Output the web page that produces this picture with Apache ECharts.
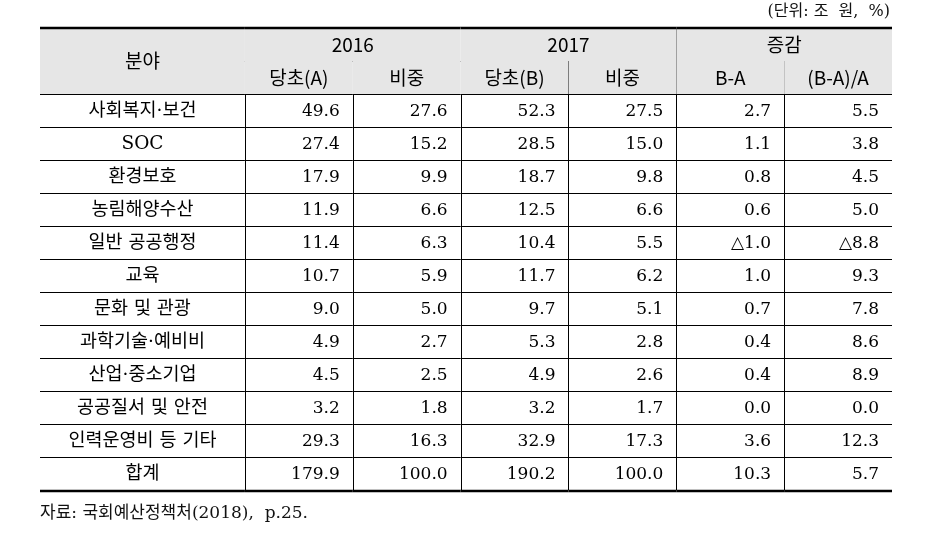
<!DOCTYPE html>
<html>
<head>
<meta charset="utf-8">
<script src="https://cdn.jsdelivr.net/npm/echarts@6/dist/echarts.min.js"></script>
<style>
html,body{margin:0;padding:0;background:#fff;}
#chart{width:930px;height:544px;}
</style>
</head>
<body>
<div id="chart"></div>
<script>
// ---- data ----
const firstHeader = '분야';
const yearHeaders = ['2016', '2017', '증감'];
const subHeaders = ['당초(A)', '비중', '당초(B)', '비중', 'B-A', '(B-A)/A'];
const categories = ['사회복지·보건', 'SOC', '환경보호', '농림해양수산', '일반 공공행정', '교육', '문화 및 관광', '과학기술·예비비', '산업·중소기업', '공공질서 및 안전', '인력운영비 등 기타', '합계'];
const budget2016 = [49.6, 27.4, 17.9, 11.9, 11.4, 10.7, 9.0, 4.9, 4.5, 3.2, 29.3, 179.9];
const share2016 = [27.6, 15.2, 9.9, 6.6, 6.3, 5.9, 5.0, 2.7, 2.5, 1.8, 16.3, 100.0];
const budget2017 = [52.3, 28.5, 18.7, 12.5, 10.4, 11.7, 9.7, 5.3, 4.9, 3.2, 32.9, 190.2];
const share2017 = [27.5, 15.0, 9.8, 6.6, 5.5, 6.2, 5.1, 2.8, 2.6, 1.7, 17.3, 100.0];
const diffBA = [2.7, 1.1, 0.8, 0.6, -1.0, 1.0, 0.7, 0.4, 0.4, 0.0, 3.6, 10.3];
const rateBA = [5.5, 3.8, 4.5, 5.0, -8.8, 9.3, 7.8, 8.6, 8.9, 0.0, 12.3, 5.7];
const unitText = '(단위: 조  원,  %)';
const sourceText = '자료: 국회예산정책처(2018),  p.25.';

// ---- layout (data-space column edges) ----
const firstColWidth = 1.9;
const colEdges = [0];
colEdges.push(firstColWidth);
for (let i = 1; i <= 6; i++) colEdges.push(firstColWidth + i);
const xMax = colEdges[colEdges.length - 1];
const headerRows = 2;
const totalRows = headerRows + categories.length;

const fmt = v => (v < 0 ? '△' + Math.abs(v).toFixed(1) : v.toFixed(1));
const numCols = [budget2016, share2016, budget2017, share2017, diffBA, rateBA];

const cells = [];
cells.push({x0: 0, x1: colEdges[1], y0: 0, y1: 2, text: firstHeader, kind: 'head'});
yearHeaders.forEach((t, i) => {
  cells.push({x0: colEdges[1 + 2 * i], x1: colEdges[3 + 2 * i], y0: 0, y1: 1, text: t, kind: 'head'});
});
subHeaders.forEach((t, i) => {
  cells.push({x0: colEdges[1 + i], x1: colEdges[2 + i], y0: 1, y1: 2, text: t, kind: 'head'});
});
categories.forEach((c, r) => {
  cells.push({x0: 0, x1: colEdges[1], y0: headerRows + r, y1: headerRows + r + 1, text: c, kind: 'cat'});
  numCols.forEach((arr, j) => {
    cells.push({x0: colEdges[1 + j], x1: colEdges[2 + j], y0: headerRows + r, y1: headerRows + r + 1, text: fmt(arr[r]), kind: 'num'});
  });
});

const serifFont = '"DejaVu Serif", "Noto Sans CJK KR", serif';
const sansFont = '"Noto Sans CJK KR", "Noto Sans", sans-serif';
const px = v => Math.round(v) + 0.5;

function renderItem(params, api) {
  const c = cells[params.dataIndex];
  const p0 = api.coord([api.value(0), api.value(2)]);
  const p1 = api.coord([api.value(1), api.value(3)]);
  const x0 = p0[0], y0 = p0[1], x1 = p1[0], y1 = p1[1];
  const children = [];
  if (c.kind === 'head') {
    children.push({type: 'rect', shape: {x: x0, y: y0, width: x1 - x0, height: y1 - y0}, style: {fill: '#e6e6e6'}});
  }
  const lastRow = api.value(3) >= totalRows;
  if (lastRow) {
    children.push({type: 'line', shape: {x1: x0, y1: Math.round(y1) + 1, x2: x1, y2: Math.round(y1) + 1}, style: {stroke: '#000', lineWidth: 2.5}});
  } else {
    children.push({type: 'line', shape: {x1: x0, y1: px(y1), x2: x1, y2: px(y1)}, style: {stroke: '#000', lineWidth: 1}});
  }
  if (api.value(2) === 0) {
    children.push({type: 'line', shape: {x1: x0, y1: Math.round(y0), x2: x1, y2: Math.round(y0)}, style: {stroke: '#000', lineWidth: 2.5}});
  }
  if (api.value(1) < xMax - 0.001) {
    children.push({type: 'line', shape: {x1: px(x1), y1: y0, x2: px(x1), y2: y1}, style: {stroke: '#000', lineWidth: 1}});
  }
  const cy = (y0 + y1) / 2 + 1;
  if (c.kind === 'num') {
    children.push({type: 'text', style: {text: c.text, x: x1 - 13, y: cy, align: 'right', verticalAlign: 'middle', fontSize: 17, fontFamily: serifFont, fill: '#000'}});
  } else if (c.kind === 'cat') {
    children.push({type: 'text', style: {text: c.text, x: (x0 + x1) / 2, y: cy, align: 'center', verticalAlign: 'middle', fontSize: 18.5, fontFamily: serifFont, fill: '#000'}});
  } else {
    children.push({type: 'text', style: {text: c.text, x: (x0 + x1) / 2, y: cy - 1, align: 'center', verticalAlign: 'middle', fontSize: 19, fontFamily: sansFont, fill: '#000'}});
  }
  return {type: 'group', children: children};
}

const chart = echarts.init(document.getElementById('chart'), null, {renderer: 'canvas'});
chart.setOption({
  animation: false,
  backgroundColor: '#fff',
  title: [
    {text: unitText, right: 40, top: 4, padding: 0, textStyle: {fontFamily: serifFont, fontSize: 16, fontWeight: 'normal', color: '#111'}},
    {text: sourceText, left: 40, top: 505, padding: 0, textStyle: {fontFamily: serifFont, fontSize: 17, fontWeight: 'normal', color: '#111'}}
  ],
  grid: {left: 40, right: 38, top: 28, bottom: 544 - 490},
  xAxis: {type: 'value', min: 0, max: xMax, show: false},
  yAxis: {type: 'value', min: 0, max: totalRows, inverse: true, show: false},
  series: [{
    type: 'custom',
    renderItem: renderItem,
    clip: false,
    data: cells.map(c => [c.x0, c.x1, c.y0, c.y1]),
    encode: {x: [0, 1], y: [2, 3]}
  }]
});
</script>
</body>
</html>
